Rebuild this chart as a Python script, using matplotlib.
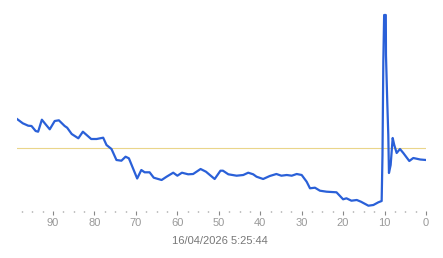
import matplotlib
import matplotlib.pyplot as plt
from matplotlib.ticker import MultipleLocator

matplotlib.use("Agg")

# age of sample (x, reversed axis) and level (arbitrary units)
ages = [98.7, 97.3, 96.0, 95.2, 94.2, 93.6, 92.7, 91.8, 90.8, 89.6,
        88.6, 87.2, 86.6, 85.5, 83.9, 82.8, 80.8, 79.5, 77.9, 77.1,
        75.9, 74.7, 73.5, 72.5, 71.7, 69.7, 68.7, 67.9, 66.7, 65.7,
        63.8, 62.6, 61.0, 60.0, 58.9, 57.4, 56.2, 54.4, 53.1, 51.0,
        49.6, 49.0, 47.7, 45.7, 44.1, 42.9, 41.7, 40.9, 39.3, 37.7,
        36.1, 34.9, 33.6, 32.4, 31.2, 30.0, 28.8, 28.0, 26.8, 25.6,
        24.0, 21.6, 20.0, 19.2, 18.0, 16.7, 15.7, 13.9, 12.7, 11.5,
        10.7, 10.5, 10.4, 10.3, 10.1, 9.7, 9.66, 9.35, 9.1, 8.94,
        8.53, 8.04, 7.66, 7.08, 6.28, 5.48, 4.03, 3.07, 1.4, 0.0]
levels = [92, 87.7, 85.3, 85, 80, 79.3, 91.3, 86.7, 81.7, 90,
          90.7, 85, 83.3, 77, 72.7, 79.3, 72, 72, 73.3, 66,
          62, 51, 50.3, 54.3, 52.7, 32.5, 41, 38.7, 38.7, 33.3,
          31, 34.3, 38.3, 35.3, 38.3, 36.7, 37, 42, 39.3, 32,
          40.3, 40.3, 36.7, 35.3, 36, 38.3, 36.7, 34.3, 32, 35,
          37, 35.3, 36, 35.3, 37, 36, 29.3, 22.7, 23.3, 20.3,
          19.3, 18.7, 11.7, 12.7, 10.3, 11, 9.3, 5.3, 6, 8.7,
          10, 56, 103, 149, 196, 196, 156, 109.3, 76, 38,
          46, 73, 66, 58, 62, 58, 50, 53, 51.5, 51]
reference_level = 63
x_major = [0, 10, 20, 30, 40, 50, 60, 70, 80, 90]
timestamp = "16/04/2026 5:25:44"


def main():
    plt.rcParams["font.family"] = ["Liberation Sans", "DejaVu Sans"]
    fig = plt.figure(figsize=(4.43, 2.58), dpi=100)
    ax = fig.add_axes([17 / 443, 47 / 258, 409 / 443, 201 / 258])

    ax.axhline(reference_level, color="#ead58a", linewidth=0.8, zorder=1)
    ax.plot(ages, levels, color="#2a60d8", linewidth=1.6, zorder=2)

    ax.set_xlim(98.7, 0)
    ax.set_ylim(0, 201)
    for side in ["top", "right", "left", "bottom"]:
        ax.spines[side].set_visible(False)
    ax.set_yticks([])
    ax.set_xticks(x_major)
    ax.set_xticklabels([str(v) for v in x_major])
    ax.xaxis.set_minor_locator(MultipleLocator(2.5))
    ax.tick_params(axis="x", which="major", length=3, width=0.8,
                   color="#888888", labelcolor="#999999", labelsize=8, pad=2)
    ax.tick_params(axis="x", which="minor", length=1, width=1,
                   color="#888888")

    fig.text(220 / 443, 17 / 258, timestamp, ha="center", va="center",
             fontsize=8, color="#777777")
    fig.savefig("out.png", dpi=100)
    return 0


if __name__ == "__main__":
    main()
